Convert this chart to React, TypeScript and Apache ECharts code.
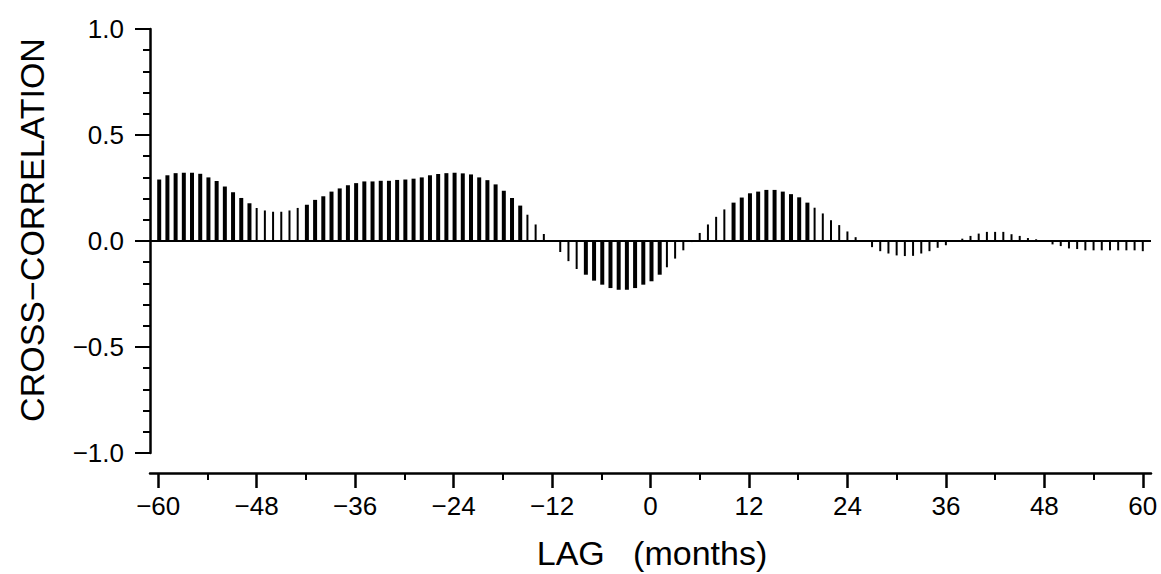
import React, { useEffect, useRef } from "react";
import * as echarts from "echarts";

// Cross-correlation values for lags -60 ... 60 months
const CORR: number[] = [
  0.29, 0.31, 0.32, 0.322, 0.322, 0.317, 0.3, 0.283, 0.257, 0.23, // -60..-51
  0.203, 0.178, 0.156, 0.144, 0.138, 0.138, 0.144, 0.156, 0.171, 0.194, // -50..-41
  0.211, 0.233, 0.248, 0.263, 0.273, 0.281, 0.281, 0.284, 0.284, 0.288, // -40..-31
  0.29, 0.294, 0.3, 0.31, 0.316, 0.32, 0.322, 0.319, 0.314, 0.3, // -30..-21
  0.287, 0.267, 0.237, 0.203, 0.167, 0.124, 0.078, 0.033, 0.003, -0.052, // -20..-11
  -0.095, -0.132, -0.159, -0.187, -0.206, -0.222, -0.23, -0.23, -0.222, -0.206, // -10..-1
  -0.19, // 0
  -0.159, -0.124, -0.083, -0.044, -0.005, 0.038, 0.078, 0.114, 0.149, 0.181, // 1..10
  0.205, 0.225, 0.233, 0.241, 0.241, 0.233, 0.221, 0.206, 0.181, 0.157, // 11..20
  0.13, 0.098, 0.075, 0.045, 0.018, -0.004, -0.029, -0.048, -0.059, -0.068, // 21..30
  -0.071, -0.07, -0.059, -0.048, -0.032, -0.02, -0.003, 0.011, 0.024, 0.035, // 31..40
  0.043, 0.043, 0.043, 0.032, 0.024, 0.014, 0.008, 0.003, -0.016, -0.024, // 41..50
  -0.035, -0.038, -0.044, -0.044, -0.044, -0.044, -0.044, -0.044, -0.044, -0.048, // 51..60
];
const FIRST_LAG = -60;
const LAGS: number[] = CORR.map((_, i) => FIRST_LAG + i);

const X_MAJOR_TICKS = [-60, -48, -36, -24, -12, 0, 12, 24, 36, 48, 60];
const X_MINOR_TICKS = [-54, -42, -30, -18, -6, 6, 18, 30, 42, 54];
const Y_TICKS_STEP = 0.5;

const X_TITLE = "LAG   (months)";
const Y_TITLE = "CROSS\u2212CORRELATION";

const FONT = "'Liberation Sans', Arial, sans-serif";
const minus = (s: string) => s.replace("-", "\u2212");

export default function App() {
  const ref = useRef<HTMLDivElement>(null);

  useEffect(() => {
    if (!ref.current) return;
    const chart = echarts.init(ref.current, undefined, { renderer: "svg" });
    const THICK = 0.158;
    const thick = LAGS.map((l, i) => (Math.abs(CORR[i]) >= THICK ? [l, CORR[i]] : [l, null]));
    const thin = LAGS.map((l, i) => (Math.abs(CORR[i]) < THICK ? [l, CORR[i]] : [l, null]));

    const tickLabel = { fontSize: 26, color: "#000", fontFamily: FONT };

    chart.setOption({
      animation: false,
      backgroundColor: "#fff",
      grid: { left: 150, right: 10, top: 29, bottom: 121, containLabel: false },
      xAxis: [
        {
          type: "value",
          min: -61,
          max: 61,
          offset: 20,
          axisLine: { show: true, onZero: false, lineStyle: { color: "#000", width: 2.5 } },
          axisTick: { show: true, length: 15, customValues: X_MAJOR_TICKS, lineStyle: { color: "#000", width: 2.5 } },
          axisLabel: {
            show: true,
            customValues: X_MAJOR_TICKS,
            margin: 20,
            ...tickLabel,
            formatter: (v: number) => minus(String(v)),
          },
          splitLine: { show: false },
        },
        {
          type: "value",
          min: -61,
          max: 61,
          offset: 20,
          position: "bottom",
          axisLine: { show: false, onZero: false },
          axisTick: { show: true, length: 7, customValues: X_MINOR_TICKS, lineStyle: { color: "#000", width: 2 } },
          axisLabel: { show: false },
          splitLine: { show: false },
        },
      ],
      yAxis: {
        type: "value",
        min: -1,
        max: 1,
        interval: Y_TICKS_STEP,
        axisLine: { show: true, onZero: false, lineStyle: { color: "#000", width: 2.5 } },
        axisTick: { show: true, length: 15, lineStyle: { color: "#000", width: 2 } },
        minorTick: { show: true, splitNumber: 5, length: 7, lineStyle: { color: "#000", width: 2 } },
        axisLabel: { margin: 26, ...tickLabel, formatter: (v: number) => minus(v.toFixed(1)) },
        splitLine: { show: false },
        minorSplitLine: { show: false },
      },
      series: [
        {
          type: "bar",
          data: thick,
          xAxisIndex: 0,
          barWidth: 4,
          barGap: "-100%",
          itemStyle: { color: "#000" },
          markLine: {
            silent: true,
            symbol: "none",
            label: { show: false },
            lineStyle: { color: "#000", width: 2, type: "solid" },
            data: [{ yAxis: 0 }],
          },
        },
        {
          type: "bar",
          data: thin,
          xAxisIndex: 0,
          barWidth: 2,
          barGap: "-100%",
          itemStyle: { color: "#000" },
        },
      ],
      graphic: [
        {
          type: "text",
          x: 32,
          y: 230,
          rotation: Math.PI / 2,
          style: {
            text: Y_TITLE,
            fontSize: 34,
            fontFamily: FONT,
            fill: "#000",
            align: "center",
            verticalAlign: "middle",
          },
        },
        {
          type: "text",
          x: 652,
          y: 553,
          style: {
            text: X_TITLE,
            fontSize: 34,
            fontFamily: FONT,
            fill: "#000",
            align: "center",
            verticalAlign: "middle",
          },
        },
      ],
    });
    return () => chart.dispose();
  }, []);

  return (
    <div
      ref={ref}
      style={{ position: "fixed", left: 0, top: 0, width: 1161, height: 574, background: "#fff" }}
    />
  );
}
